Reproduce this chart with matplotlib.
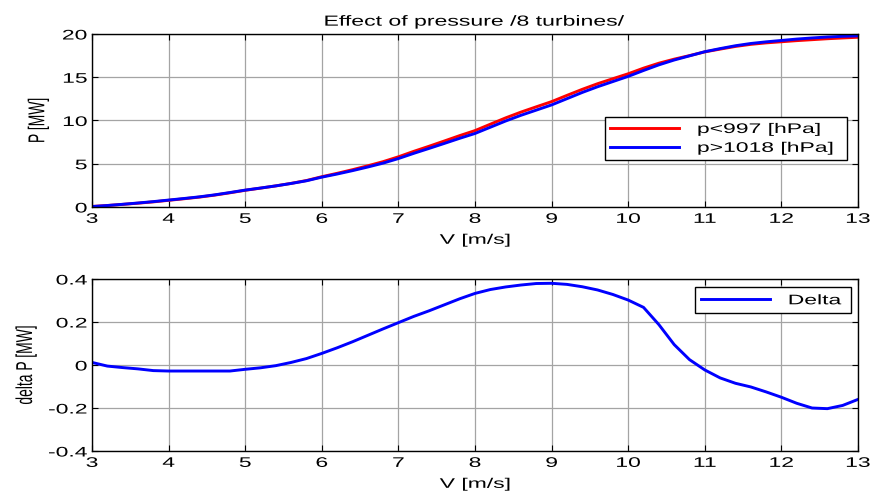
import matplotlib
matplotlib.use("Agg")
import matplotlib.pyplot as plt
from matplotlib.ticker import FuncFormatter
from matplotlib.patheffects import AbstractPathEffect
from matplotlib.transforms import Affine2D

plt.rcParams['font.family'] = ['Liberation Sans', 'DejaVu Sans']
plt.rcParams['axes.unicode_minus'] = False

# Wind speed grid [m/s]
v = [3.0, 3.2, 3.4, 3.6, 3.8, 4.0, 4.2, 4.4, 4.6, 4.8, 5.0, 5.2, 5.4, 5.6,
     5.8, 6.0, 6.2, 6.4, 6.6, 6.8, 7.0, 7.2, 7.4, 7.6, 7.8, 8.0, 8.2, 8.4,
     8.6, 8.8, 9.0, 9.2, 9.4, 9.6, 9.8, 10.0, 10.2, 10.4, 10.6, 10.8, 11.0,
     11.2, 11.4, 11.6, 11.8, 12.0, 12.2, 12.4, 12.6, 12.8, 13.0]

# Farm power for low pressure (p<997 hPa) [MW]
p_low = [0.06, 0.17, 0.30, 0.44, 0.59, 0.77, 0.95, 1.14, 1.37, 1.64, 1.93,
         2.18, 2.44, 2.73, 3.06, 3.50, 3.89, 4.31, 4.76, 5.24, 5.80, 6.43,
         7.02, 7.63, 8.25, 8.83, 9.57, 10.30, 10.97, 11.58, 12.18, 12.90,
         13.60, 14.25, 14.83, 15.40, 16.05, 16.62, 17.09, 17.50, 17.93,
         18.25, 18.56, 18.80, 18.97, 19.10, 19.23, 19.34, 19.45, 19.54, 19.62]

# Farm power for high pressure (p>1018 hPa) [MW]
p_high = [0.05, 0.17, 0.31, 0.46, 0.62, 0.80, 0.98, 1.17, 1.40, 1.67, 1.95,
          2.19, 2.44, 2.72, 3.03, 3.45, 3.81, 4.20, 4.62, 5.07, 5.60, 6.20,
          6.77, 7.35, 7.94, 8.50, 9.22, 9.94, 10.60, 11.20, 11.80, 12.52,
          13.24, 13.90, 14.50, 15.10, 15.78, 16.43, 16.99, 17.47, 17.95,
          18.31, 18.64, 18.90, 19.09, 19.25, 19.41, 19.54, 19.65, 19.73, 19.78]

# Power difference between the two pressure classes [MW]
delta = [0.012, -0.005, -0.012, -0.018, -0.026, -0.028, -0.028, -0.028,
         -0.028, -0.028, -0.020, -0.013, -0.003, 0.012, 0.030, 0.054, 0.080,
         0.108, 0.138, 0.168, 0.197, 0.226, 0.252, 0.280, 0.308, 0.333,
         0.351, 0.363, 0.372, 0.379, 0.380, 0.375, 0.364, 0.349, 0.328,
         0.302, 0.268, 0.188, 0.095, 0.025, -0.023, -0.060, -0.085, -0.102,
         -0.125, -0.150, -0.178, -0.200, -0.203, -0.188, -0.160]

x_ticks = [3, 4, 5, 6, 7, 8, 9, 10, 11, 12, 13]
p_ticks = [0, 5, 10, 15, 20]
d_ticks = [-0.4, -0.2, 0, 0.2, 0.4]

FS = 10
SX = 1.65          # horizontal widening of the lettering


class HStretch(AbstractPathEffect):
    """Draw text glyphs widened horizontally around a chosen edge."""

    def __init__(self, sx, anchor='center'):
        super().__init__((0, 0))
        self._sx = sx
        self._anchor = anchor

    def draw_path(self, renderer, gc, tpath, affine, rgbFace=None):
        ext = tpath.get_extents(affine)
        if self._anchor == 'left':
            x0 = ext.x0
        elif self._anchor == 'right':
            x0 = ext.x1
        else:
            x0 = 0.5 * (ext.x0 + ext.x1)
        tr = affine + Affine2D().translate(-x0, 0).scale(self._sx, 1.0).translate(x0, 0)
        renderer.draw_path(gc, tpath, tr, rgbFace)


def wide(anchor, sx=SX):
    return [HStretch(sx, anchor)]


fig = plt.figure(figsize=(8.74, 4.96), dpi=100)
ax1 = fig.add_axes([0.1053, 0.5827, 0.8764, 0.3488])
ax2 = fig.add_axes([0.1053, 0.0907, 0.8764, 0.3468])


def fmt(val, pos):
    if abs(val) < 1e-9:
        return '0'
    return '%g' % val


def style(ax):
    ax.grid(True, color='#a4a4a4', linewidth=0.9, linestyle='-')
    ax.set_axisbelow(True)
    ax.tick_params(direction='in', length=4, width=0.8, top=True, right=True,
                   labelsize=FS, colors='black', pad=3.5)
    for s in ax.spines.values():
        s.set_color('black')
        s.set_linewidth(1.0)
    ax.set_xlim(3, 13)
    ax.set_xticks(x_ticks)
    ax.yaxis.set_major_formatter(FuncFormatter(fmt))


def widen_ticks(ax):
    for t in ax.get_xticklabels():
        t.set_path_effects(wide('center'))
    for t in ax.get_yticklabels():
        t.set_path_effects(wide('right'))


def legend(ax, x0, ytop, w, pad):
    leg = ax.legend(loc='upper left', bbox_to_anchor=(x0, ytop, w, 0),
                    mode='expand', fontsize=FS, frameon=True, fancybox=False,
                    edgecolor='black', framealpha=1.0,
                    handlelength=5.0, handletextpad=1.3, borderpad=pad,
                    labelspacing=0.35, borderaxespad=0)
    leg.get_frame().set_linewidth(1.0)
    for t in leg.get_texts():
        t.set_path_effects(wide('left'))
    return leg


# Top panel: power curves
ax1.plot(v, p_low, color='#ff0000', linewidth=2.1, label='p<997 [hPa]')
ax1.plot(v, p_high, color='#0000ff', linewidth=2.1, label='p>1018 [hPa]')
style(ax1)
ax1.set_ylim(0, 20)
ax1.set_yticks(p_ticks)
title = ax1.set_title('Effect of pressure /8 turbines/', fontsize=10.5, pad=6)
title.set_path_effects(wide('center', 1.58))
xl1 = ax1.set_xlabel('V [m/s]', fontsize=FS, labelpad=5)
xl1.set_path_effects(wide('center'))
yl1 = ax1.set_ylabel('P [MW]', fontsize=FS)
yl1.set_path_effects(wide('right'))
ax1.yaxis.set_label_coords(-0.056, 0.5)
widen_ticks(ax1)
legend(ax1, 0.6697, 0.5202, 0.3155, 0.36)

# Bottom panel: difference
ax2.plot(v, delta, color='#0000ff', linewidth=2.1, label='Delta')
style(ax2)
ax2.set_ylim(-0.4, 0.4)
ax2.set_yticks(d_ticks)
xl2 = ax2.set_xlabel('V [m/s]', fontsize=FS, labelpad=5)
xl2.set_path_effects(wide('center'))
yl2 = ax2.set_ylabel('delta P [MW]', fontsize=FS)
yl2.set_path_effects(wide('right'))
ax2.yaxis.set_label_coords(-0.072, 0.5)
widen_ticks(ax2)
legend(ax2, 0.7872, 0.9517, 0.2033, 0.43)

fig.savefig('out.png', dpi=100)
